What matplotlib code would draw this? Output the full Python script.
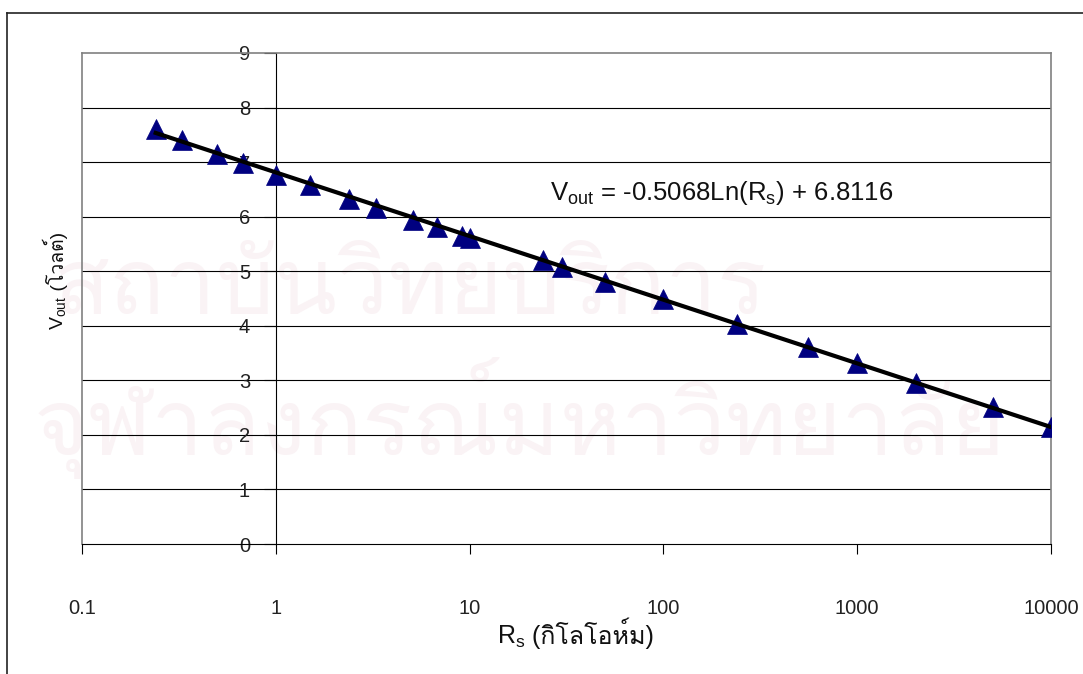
import matplotlib
matplotlib.use("Agg")
import matplotlib.pyplot as plt
from matplotlib import font_manager
from matplotlib.lines import Line2D
from matplotlib.ticker import FixedLocator, FixedFormatter, NullLocator
import numpy as np

# Source resistance (kOhm) and measured output voltage (V)
rs_kohm = [0.24, 0.33, 0.5, 0.68, 1, 1.5, 2.4, 3.3, 5.1, 6.8, 9.1, 10,
           24, 30, 50, 100, 240, 560, 1000, 2000, 5000, 10000]
vout = [7.61, 7.41, 7.15, 6.99, 6.77, 6.58, 6.33, 6.16, 5.93, 5.81, 5.65, 5.61,
        5.20, 5.07, 4.81, 4.50, 4.04, 3.62, 3.31, 2.96, 2.51, 2.15]

# logarithmic trendline  Vout = a*ln(Rs) + b
fit_a = -0.5068
fit_b = 6.8116

xtick_vals = [0.1, 1, 10, 100, 1000, 10000]
xtick_labels = ["0.1", "1", "10", "100", "1000", "10000"]
ytick_vals = list(range(10))

eq_text = r"V$_{\mathregular{out}}$ = -0.5068Ln(R$_{\mathregular{s}}$) + 6.8116"
xlabel_head, xlabel_tail = r"R$_{\mathregular{s}}$", " (กิโลโอห์ม)"
ylabel_head, ylabel_tail = r"V$_{\mathregular{out}}$", " (โวลต์)"
watermark_lines = ["สถาบันวิทยบริการ", "จุฬาลงกรณ์มหาวิทยาลัย"]


def find_thai_family():
    """Return the name of an installed font that has Thai glyphs, if any."""
    try:
        from fontTools.ttLib import TTFont
    except ImportError:
        return None
    for fe in font_manager.fontManager.ttflist:
        try:
            cmap = TTFont(fe.fname, fontNumber=0, lazy=True).getBestCmap()
        except Exception:
            continue
        if cmap and 0x0E01 in cmap:
            return fe.name
    return None


thai = find_thai_family()
families = ["Liberation Sans"] + ([thai] if thai else []) + ["DejaVu Sans"]
plt.rcParams["font.family"] = families

W, H = 1083, 674
fig = plt.figure(figsize=(W / 100, H / 100), dpi=100)
fig.patch.set_facecolor("white")

# faint page watermark, kept underneath everything else
wm_family = [thai] if thai else families
fig.text(410 / W, 1 - 290 / H, watermark_lines[0], fontsize=66, color="#faf3f5",
         ha="center", va="center", family=wm_family, zorder=-5)
fig.text(520 / W, 1 - 418 / H, watermark_lines[1], fontsize=67, color="#faf3f5",
         ha="center", va="center", family=wm_family, zorder=-5)

# outer chart border (runs off the right/bottom of the canvas)
fig.add_artist(Line2D([7 / W, 7 / W], [0, 1 - 13 / H], transform=fig.transFigure,
                      color="#222222", lw=1.2))
fig.add_artist(Line2D([7 / W, 1], [1 - 13 / H, 1 - 13 / H], transform=fig.transFigure,
                      color="#222222", lw=1.2))

ax = fig.add_axes([82 / W, 1 - 544 / H, (1051 - 82) / W, (544 - 53) / H])
ax.patch.set_facecolor("none")
ax.set_xscale("log")
ax.set_xlim(xtick_vals[0], xtick_vals[-1])
ax.set_ylim(ytick_vals[0], ytick_vals[-1])

for yv in ytick_vals[1:-1]:
    ax.axhline(yv, color="black", lw=0.8, zorder=1)

ax.plot(rs_kohm, vout, linestyle="none", marker="^", markersize=14.5,
        color="#000080", markeredgecolor="#000080", markeredgewidth=0.5, zorder=3)

x_fit = np.array([rs_kohm[0], rs_kohm[-1]], dtype=float)
ax.plot(x_fit, fit_a * np.log(x_fit) + fit_b, color="black", lw=3, zorder=4)

# frame: grey box, black axes crossing at Rs = 1 and V = 0
for side in ("top", "right"):
    ax.spines[side].set_color("#808080")
    ax.spines[side].set_linewidth(1.2)
ax.spines["left"].set_position(("data", 1))
ax.spines["left"].set_color("black")
ax.spines["left"].set_linewidth(0.8)
ax.spines["bottom"].set_color("black")
ax.spines["bottom"].set_linewidth(0.8)
ax.add_artist(Line2D([0, 0], [0, 1], transform=ax.transAxes, color="#808080",
                     lw=1.2, clip_on=False))

ax.xaxis.set_major_locator(FixedLocator(xtick_vals))
ax.xaxis.set_major_formatter(FixedFormatter(xtick_labels))
ax.xaxis.set_minor_locator(NullLocator())
ax.yaxis.set_major_locator(FixedLocator(ytick_vals))
ax.tick_params(axis="x", direction="out", length=7.5, width=0.8, pad=32,
               labelsize=14.5, colors="black")
ax.tick_params(axis="y", direction="out", length=8.5, width=0.8, pad=10,
               labelsize=14.5, colors="black")
for lbl in ax.get_yticklabels() + ax.get_xticklabels():
    lbl.set_color("#222222")

ax.text(550 / W, 1 - 200 / H, eq_text, transform=fig.transFigure, fontsize=18.5,
        ha="left", va="baseline", color="#111111", zorder=5)


def two_part_label(x_px, y_px, head, tail, rotation=0, size=15):
    """Mathtext head followed by plain (Thai) text on the same baseline."""
    kw = dict(fontsize=size, rotation=rotation, rotation_mode="anchor",
              ha="left", va="baseline", color="#111111")
    t1 = fig.text(x_px / W, 1 - y_px / H, head, **kw)
    bb = t1.get_window_extent(fig.canvas.get_renderer())
    if rotation == 0:
        fig.text(bb.x1 / W, 1 - y_px / H, tail, **kw)
    else:
        fig.text(x_px / W, bb.y1 / H, tail, **kw)


two_part_label(497, 644, xlabel_head, xlabel_tail, size=18)
two_part_label(64, 330, ylabel_head, ylabel_tail, rotation=90, size=14)

fig.savefig("out.png", dpi=100)
plt.close(fig)
